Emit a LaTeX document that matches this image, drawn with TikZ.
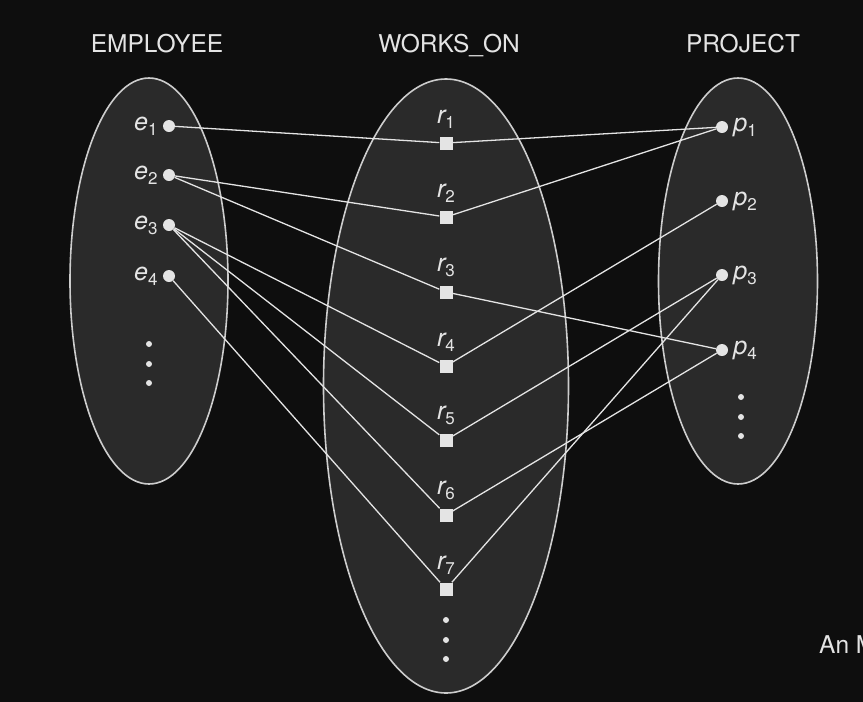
\documentclass[tikz,border=0pt]{standalone}
\usepackage{fontspec}
\setmainfont{TeX Gyre Heros}
\usetikzlibrary{positioning, shapes.geometric}
\definecolor{bgdark}{HTML}{0E0E0E}
\definecolor{setfill}{HTML}{2A2A2A}
\definecolor{setline}{HTML}{CDCDCD}
\definecolor{inkgray}{HTML}{E4E4E4}
\newcommand{\elem}[2]{{\fontsize{25}{25}\selectfont\itshape #1}\raisebox{-5pt}{\fontsize{17}{17}\selectfont #2}}

\begin{document}
\begin{tikzpicture}[
  x=1pt, y=-1pt,
  every node/.style={font=\fontsize{24.5}{24.5}\selectfont, text=inkgray},
  set/.style={ellipse, draw=setline, fill=setfill, line width=1.6pt, inner sep=0pt},
  ent/.style={circle, fill=inkgray, inner sep=0pt, minimum size=12pt},
  rel/.style={rectangle, fill=inkgray, inner sep=0pt, minimum size=13pt},
  lbl/.style={inner sep=0pt},
  link/.style={draw=inkgray, line width=1.3pt},
]
  \fill[bgdark] (0,0) rectangle (863,702);
  \useasboundingbox (0,0) rectangle (863,702);
  % the three sets
  \node[set, minimum width=158pt, minimum height=406pt] (emp)  at (149,281) {};
  \node[set, minimum width=245pt, minimum height=614pt] (wrk)  at (446,386) {};
  \node[set, minimum width=159pt, minimum height=406pt] (proj) at (738,281) {};
  \node[anchor=base] (empT)  at (157,52) {EMPLOYEE};
  \node[anchor=base] (wrkT)  at (449,52) {WORKS\_ON};
  \node[anchor=base] (projT) at (743,52) {PROJECT};
  % elements
  \foreach \i/\y in {1/126,2/175,3/225,4/276}{
    \node[ent] (e\i) at (169,\y) {};
    \node[lbl, left=5pt of e\i] (le\i) {\elem{e}{\i}};
  }
  \foreach \i/\y in {1/143,2/217,3/292,4/366,5/440,6/515,7/589}{
    \node[rel] (r\i) at (446,\y) {};
    \node[lbl, above=8pt of r\i] (lr\i) {\elem{r}{\i}};
  }
  \foreach \i/\y in {1/127,2/201,3/275,4/350}{
    \node[ent] (p\i) at (722,\y) {};
    \node[lbl, right=5pt of p\i] (lp\i) {\elem{p}{\i}};
  }
  \foreach \x/\y in {149/344,149/364,149/383,446/620,446/640,446/659,741/397,741/417,741/436}
    \fill[inkgray] (\x,\y) circle (3);
  % relationship instances
  \foreach \a/\b in {e1/r1,e2/r2,e2/r3,e3/r4,e3/r5,e3/r6,e4/r7,
                     r1/p1,r2/p1,r3/p4,r4/p2,r5/p3,r6/p4,r7/p3}
    \draw[link] (\a) -- (\b);
  \node[lbl, anchor=base west] (cap) at (819,653) {An M};
\end{tikzpicture}
\end{document}
